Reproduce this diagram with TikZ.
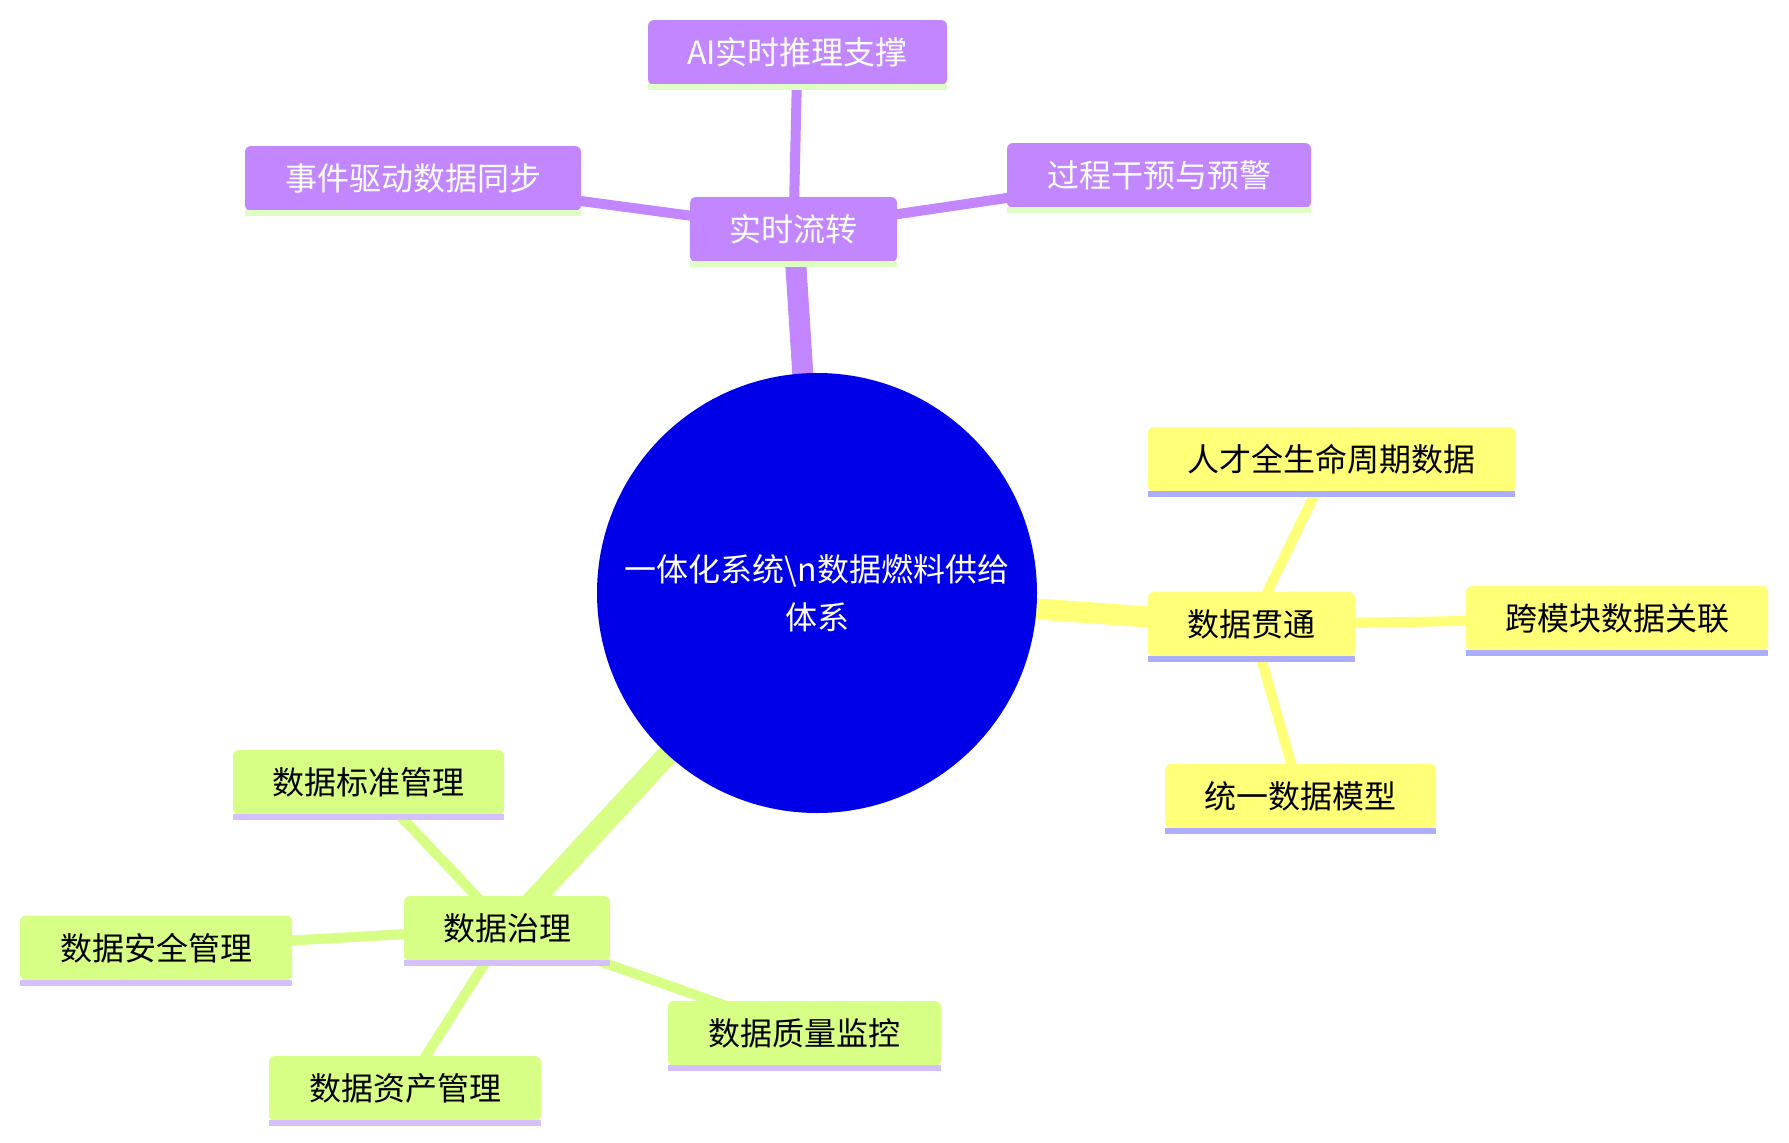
\documentclass[tikz,border=0pt]{standalone}
\usepackage{fontspec}
\setmainfont{Noto Sans CJK SC}
\definecolor{rootblue}{HTML}{0000E8}
\definecolor{secY}{HTML}{FFFF78}
\definecolor{secG}{HTML}{D7FF86}
\definecolor{secP}{HTML}{C286FF}
\definecolor{ulY}{HTML}{ADADFF}
\definecolor{ulG}{HTML}{D4BFFF}
\definecolor{ulP}{HTML}{DDFFC4}
\pgfdeclarelayer{bg}
\pgfdeclarelayer{paper}
\pgfsetlayers{paper,bg,main}
\tikzset{
  mmbox/.style={rectangle, rounded corners=6pt, minimum height=65pt, inner sep=0pt,
    font=\fontsize{32}{32}\selectfont},
  boxY/.style={mmbox, fill=secY, text=black},
  boxG/.style={mmbox, fill=secG, text=black},
  boxP/.style={mmbox, fill=secP, text=white},
  edgeA/.style={line width=21pt},
  edgeB/.style={line width=10pt},
}
\newcommand{\uline}[2]{\fill[#2] ([yshift=1pt]#1.south west) rectangle ([yshift=-5pt]#1.south east);}
\begin{document}
\begin{tikzpicture}[x=1pt,y=-1pt]
\begin{pgfonlayer}{paper}
\fill[white] (0,0) rectangle (1789,1143);
\end{pgfonlayer}
\useasboundingbox (0,0) rectangle (1789,1143);
% root
\node[circle, fill=rootblue, minimum size=440pt, inner sep=0pt, text=white, align=center,
  font=\fontsize{32}{48}\selectfont] (root) at (817,593) {一体化系统\textbackslash n数据燃料供给\\体系};
% purple section
\node[boxP, minimum width=207pt] (rt) at (793.5,229.5) {实时流转};
\node[boxP, minimum width=299pt] (ai) at (797.5,52.5) {AI实时推理支撑};
\node[boxP, minimum width=336pt] (evt) at (413,178.5) {事件驱动数据同步};
\node[boxP, minimum width=304pt] (proc) at (1159,175.5) {过程干预与预警};
% yellow section
\node[boxY, minimum width=207pt] (dt) at (1251.5,624.5) {数据贯通};
\node[boxY, minimum width=367pt] (talent) at (1331.5,459.5) {人才全生命周期数据};
\node[boxY, minimum width=302pt] (cross) at (1617,618.5) {跨模块数据关联};
\node[boxY, minimum width=271pt] (unify) at (1300.5,796.5) {统一数据模型};
% green section
\node[boxG, minimum width=206pt] (gov) at (507,928.5) {数据治理};
\node[boxG, minimum width=271pt] (std) at (368.5,782.5) {数据标准管理};
\node[boxG, minimum width=272pt] (sec) at (156,948) {数据安全管理};
\node[boxG, minimum width=272pt] (asset) at (405,1088.5) {数据资产管理};
\node[boxG, minimum width=273pt] (qual) at (804.5,1033.5) {数据质量监控};
% underlines
\uline{rt}{ulP}\uline{ai}{ulP}\uline{evt}{ulP}\uline{proc}{ulP}
\uline{dt}{ulY}\uline{talent}{ulY}\uline{cross}{ulY}\uline{unify}{ulY}
\uline{gov}{ulG}\uline{std}{ulG}\uline{sec}{ulG}\uline{asset}{ulG}\uline{qual}{ulG}
% edges
\begin{pgfonlayer}{bg}
\draw[edgeA, secP] (root.center) -- (rt.center);
\draw[edgeA, secY] (root.center) -- (dt.center);
\draw[edgeA, secG] (root.center) -- (gov.center);
\draw[edgeB, secP] (rt.center) -- (ai.center);
\draw[edgeB, secP] (rt.center) -- (evt.center);
\draw[edgeB, secP] (rt.center) -- (proc.center);
\draw[edgeB, secY] (dt.center) -- (talent.center);
\draw[edgeB, secY] (dt.center) -- (cross.center);
\draw[edgeB, secY] (dt.center) -- (unify.center);
\draw[edgeB, secG] (gov.center) -- (std.center);
\draw[edgeB, secG] (gov.center) -- (sec.center);
\draw[edgeB, secG] (gov.center) -- (asset.center);
\draw[edgeB, secG] (gov.center) -- (qual.center);
\end{pgfonlayer}
\end{tikzpicture}
\end{document}
